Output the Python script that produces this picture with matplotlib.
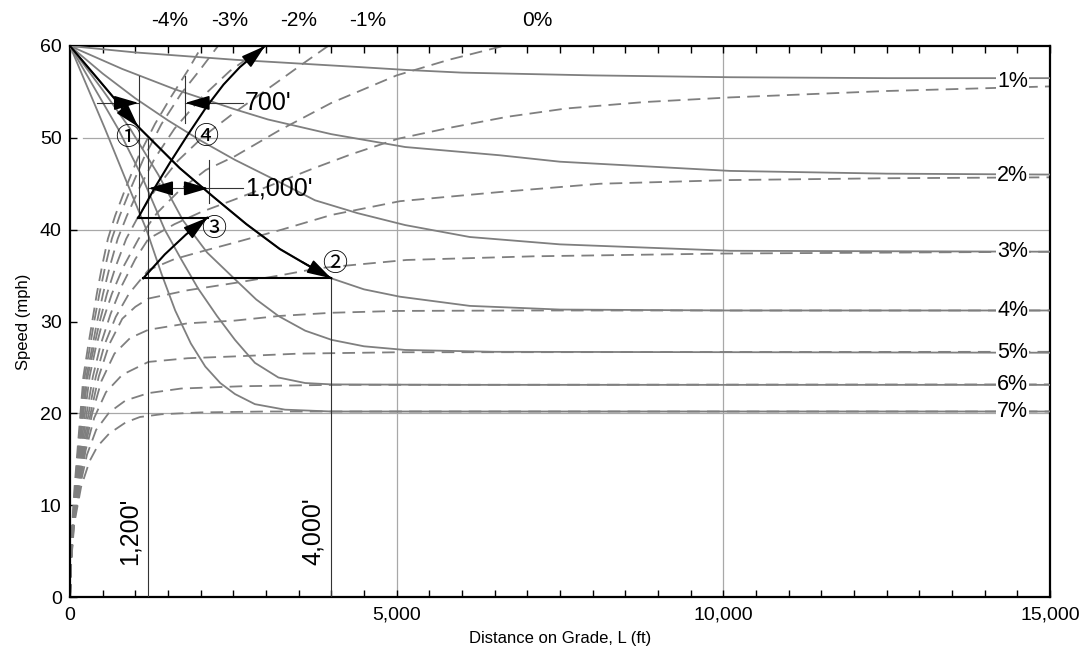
import matplotlib.pyplot as plt
from matplotlib.ticker import MultipleLocator, FuncFormatter

plt.rcParams['font.family'] = ['Liberation Sans', 'DejaVu Sans']

# deceleration on upgrades (solid), distance in ft, speed in mph
dec1_d = [0, 1000, 2525, 4440, 5130, 6000, 8000, 10100, 12500, 15000]
dec1_v = [60, 59.3, 58.5, 57.7, 57.4, 57.1, 56.8, 56.6, 56.5, 56.5]
dec2_d = [0, 800, 1600, 2525, 3030, 4000, 5130, 6580, 7500, 10100, 12500, 15000]
dec2_v = [60, 57.5, 55.3, 53.1, 52.0, 50.4, 49.0, 48.1, 47.4, 46.4, 46.1, 46.0]
dec3_d = [0, 500, 1000, 1500, 2000, 2525, 3200, 3750, 4400, 5130, 6120, 7500, 10100, 15000]
dec3_v = [60, 57.0, 54.3, 51.9, 49.7, 47.6, 45.2, 43.2, 41.8, 40.5, 39.2, 38.4, 37.7, 37.6]
dec4_d = [0, 500, 1045, 1680, 2190, 2700, 3210, 3620, 4000, 4500, 5050, 6120, 7500, 10100, 15000]
dec4_v = [60, 55.8, 51.2, 46.7, 43.6, 40.6, 37.9, 36.2, 34.7, 33.5, 32.7, 31.7, 31.3, 31.2, 31.2]
dec5_d = [0, 500, 920, 1350, 1730, 2100, 2525, 2850, 3190, 3600, 4005, 4500, 5130, 6500, 15000]
dec5_v = [60, 55.2, 51, 46, 41, 37.5, 34.6, 32.4, 30.6, 29.0, 28.0, 27.3, 26.9, 26.7, 26.6]
dec6_d = [0, 735, 1100, 1450, 1700, 1960, 2250, 2525, 2830, 3190, 3600, 4005, 6000, 15000]
dec6_v = [60, 51, 45.8, 40, 36.8, 33.6, 30.6, 28.0, 25.5, 23.9, 23.3, 23.15, 23.1, 23.1]
dec7_d = [0, 535, 850, 1170, 1400, 1610, 1850, 2070, 2300, 2525, 2830, 3290, 4000, 15000]
dec7_v = [60, 51, 45.5, 40, 35.2, 31.2, 27.6, 25.1, 23.3, 22.1, 21.0, 20.4, 20.2, 20.2]

# acceleration curves (dashed), from a standing start
accm4_d = [0, 12, 35, 70, 115, 160, 205, 270, 340, 410, 490, 580, 690, 850, 1050, 1300, 1550, 1800, 2020]
accm4_v = [0, 4, 8, 12, 16, 20, 24, 27, 30, 33, 36, 39, 41.5, 44.5, 48, 51.5, 54.5, 57.3, 60]
accm3_d = [0, 13, 38, 78, 125, 175, 225, 300, 370, 450, 540, 640, 760, 930, 1130, 1400, 1700, 2000, 2265]
accm3_v = [0, 4, 8, 12, 16, 20, 24, 27, 30, 33, 36, 39, 41.5, 44.5, 47.8, 51.5, 54.8, 57.5, 60]
accm2_d = [0, 14, 41, 85, 138, 190, 250, 335, 415, 505, 610, 730, 870, 1060, 1300, 1600, 2000, 2450, 2985]
accm2_v = [0, 4, 8, 12, 16, 20, 24, 27, 30, 33, 36, 39, 41.5, 44.5, 47.8, 51, 54.3, 57.3, 60]
accm1_d = [0, 15, 43, 92, 150, 205, 270, 360, 455, 565, 700, 860, 1050, 1320, 1650, 2050, 2525, 3140, 3550, 3950]
accm1_v = [0, 4, 8, 12, 16, 20, 24, 27, 30, 33, 36, 39, 41.5, 44.5, 47.5, 50.2, 52.8, 55.9, 58, 60]
acc0_d = [0, 15, 45, 100, 165, 228, 300, 390, 500, 640, 820, 1050, 1330, 1680, 2080, 2525, 3200, 4000, 5000, 5800, 6630]
acc0_v = [0, 4, 8, 12, 16, 20, 24, 27, 30, 33, 36, 39, 41.8, 44.3, 46.5, 48.0, 50.8, 53.8, 56.8, 58.5, 60]
acc1_d = [0, 16, 48, 108, 180, 255, 350, 470, 620, 800, 1000, 1200, 1600, 2000, 2525, 3100, 3700, 4300, 5020, 5815, 6700, 7600, 8800, 10100, 12500, 15000]
acc1_v = [0, 4, 8, 12, 16, 20, 24, 27.5, 30.8, 34.0, 36.8, 39.0, 40.6, 41.9, 43.3, 44.9, 46.6, 48.2, 49.9, 51.1, 52.3, 53.2, 53.9, 54.4, 55.1, 55.6]
acc2_d = [0, 17, 50, 115, 195, 285, 395, 530, 700, 900, 1200, 1600, 2000, 2525, 3240, 4000, 5050, 6580, 8110, 10100, 12500, 15000]
acc2_v = [0, 4, 8, 12, 16, 20, 24, 27.5, 30.5, 33.0, 35.6, 36.8, 37.6, 38.6, 40.0, 41.6, 43.1, 44.1, 45.0, 45.4, 45.6, 45.7]
acc3_d = [0, 17, 52, 122, 210, 315, 440, 600, 800, 1000, 1200, 1800, 2525, 3200, 3800, 5150, 7100, 10000, 15000]
acc3_v = [0, 4, 8, 12, 16, 20, 24, 27.5, 30.3, 31.6, 32.5, 33.4, 34.2, 35.0, 35.8, 36.7, 37.1, 37.4, 37.6]
acc4_d = [0, 18, 55, 130, 225, 340, 480, 680, 920, 1200, 1800, 2525, 3200, 4000, 5000, 7000, 15000]
acc4_v = [0, 4, 8, 12, 16, 20, 23.5, 26.5, 28.2, 29.1, 29.8, 30.1, 30.6, 30.95, 31.15, 31.2, 31.2]
acc5_d = [0, 18, 57, 140, 240, 370, 550, 800, 1200, 1800, 2525, 3500, 5000, 15000]
acc5_v = [0, 4, 8, 12, 16, 19.5, 22.3, 24.2, 25.6, 26.0, 26.2, 26.5, 26.65, 26.7]
acc6_d = [0, 19, 60, 150, 260, 400, 600, 850, 1200, 1700, 2630, 4000, 15000]
acc6_v = [0, 4, 8, 12, 15.5, 18.2, 20.1, 21.4, 22.2, 22.7, 22.95, 23.1, 23.15]
acc7_d = [0, 20, 65, 170, 300, 420, 600, 850, 1070, 1400, 2000, 3000, 15000]
acc7_v = [0, 4, 8, 12, 14.8, 16.4, 17.8, 19.0, 19.6, 19.9, 20.1, 20.2, 20.2]

grade_labels = ['1%', '2%', '3%', '4%', '5%', '6%', '7%']
grade_label_v = [56.1, 45.9, 37.6, 31.2, 26.65, 23.1, 20.2]
down_labels = ['-4%', '-3%', '-2%', '-1%', '0%']
down_label_d = [1530, 2450, 3505, 4560, 7150]

# worked example path
ex2_d = [0, 500, 1045, 1680, 2190, 2700, 3210, 3620, 4000]
ex2_v = [60, 55.8, 51.2, 46.7, 43.6, 40.6, 37.9, 36.2, 34.7]
ex3_d = [1120, 1450, 1780, 2100]
ex3_v = [34.7, 37.3, 39.5, 41.3]
ex4_d = [1045, 1300, 1530, 1800, 2092, 2350, 2600, 2800, 2985]
ex4_v = [41.3, 44.6, 47.3, 50.3, 53.4, 55.8, 57.7, 58.9, 60]

GRAY = '#7f7f7f'
GRID = '#a8a8a8'

fig = plt.figure(figsize=(10.89, 6.69), dpi=100)
ax = fig.add_axes([70 / 1089, 1 - 597 / 669, 980 / 1089, 551 / 669])

# grid
for gv in [20, 40]:
    ax.plot([0, 15000], [gv, gv], color=GRID, lw=0.9, zorder=1)
ax.plot([200, 14900], [50, 50], color=GRID, lw=0.9, zorder=1)
for gx in [5000, 10000]:
    ax.plot([gx, gx], [0, 60], color=GRID, lw=0.9, zorder=1)

dec = [(dec1_d, dec1_v), (dec2_d, dec2_v), (dec3_d, dec3_v), (dec4_d, dec4_v),
       (dec5_d, dec5_v), (dec6_d, dec6_v), (dec7_d, dec7_v)]
acc = [(accm4_d, accm4_v), (accm3_d, accm3_v), (accm2_d, accm2_v), (accm1_d, accm1_v),
       (acc0_d, acc0_v), (acc1_d, acc1_v), (acc2_d, acc2_v), (acc3_d, acc3_v),
       (acc4_d, acc4_v), (acc5_d, acc5_v), (acc6_d, acc6_v), (acc7_d, acc7_v)]

for d, v in acc:
    ax.plot(d, v, color=GRAY, lw=1.3, dashes=(7, 4), zorder=2)
for d, v in dec:
    ax.plot(d, v, color=GRAY, lw=1.3, zorder=3)

# thin construction lines
LC = '#333333'
ax.plot([1200, 1200], [0, 49.9], color=LC, lw=0.8, zorder=4)
ax.plot([4000, 4000], [0, 34.7], color=LC, lw=0.8, zorder=4)
ax.plot([1050, 1050], [41.3, 56.7], color=LC, lw=0.8, zorder=4)
ax.plot([1760, 1760], [51.6, 56.7], color=LC, lw=0.8, zorder=4)
ax.plot([2120, 2120], [42.9, 47.6], color=LC, lw=0.8, zorder=4)

# worked example in black
ax.plot(ex2_d, ex2_v, color='black', lw=1.5, zorder=5)
ax.plot(ex3_d, ex3_v, color='black', lw=1.5, zorder=5)
ax.plot(ex4_d, ex4_v, color='black', lw=1.5, zorder=5)
ax.plot([1120, 4000], [34.7, 34.7], color='black', lw=1.5, zorder=5)
ax.plot([1045, 2115], [41.3, 41.3], color='black', lw=1.5, zorder=5)


def head(tip, tail):
    ax.annotate('', xy=tip, xytext=tail, zorder=6,
                arrowprops=dict(arrowstyle='-|>,head_length=0.75,head_width=0.22',
                                color='black', lw=1.2, shrinkA=0, shrinkB=0,
                                mutation_scale=20))


head((1045, 51.2), (760, 53.5))
head((4000, 34.7), (3550, 36.5))
head((2100, 41.3), (1800, 39.6))
head((2985, 60), (2720, 58.4))

# dimension lines
ax.plot([410, 1050], [53.8, 53.8], color=LC, lw=0.8, zorder=4)
ax.plot([1760, 2650], [53.8, 53.8], color=LC, lw=0.8, zorder=4)
head((1050, 53.8), (700, 53.8))
head((1760, 53.8), (2110, 53.8))
ax.plot([1200, 2650], [44.5, 44.5], color=LC, lw=0.8, zorder=4)
head((1200, 44.5), (1550, 44.5))
head((2120, 44.5), (1770, 44.5))
ax.text(2680, 53.8, "700'", fontsize=18, va='center', ha='left', zorder=7)
ax.text(2680, 44.5, "1,000'", fontsize=18, va='center', ha='left', zorder=7)
ax.text(920, 7.2, "1,200'", fontsize=18, rotation=90, va='center', ha='center', zorder=7)
ax.text(3720, 7.2, "4,000'", fontsize=18, rotation=90, va='center', ha='center', zorder=7)

circ = ['Noto Sans CJK JP', 'DejaVu Sans']
ax.text(888, 50.0, '\u2460', fontsize=18, family=circ, ha='center', va='center', zorder=7)
ax.text(4056, 36.3, '\u2461', fontsize=18, family=circ, ha='center', va='center', zorder=7)
ax.text(2204, 40.1, '\u2462', fontsize=18, family=circ, ha='center', va='center', zorder=7)
ax.text(2082, 50.1, '\u2463', fontsize=18, family=circ, ha='center', va='center', zorder=7)

for lab, v in zip(grade_labels, grade_label_v):
    ax.text(14430, v, lab, fontsize=15.5, ha='center', va='center', zorder=7,
            bbox=dict(fc='white', ec='none', pad=0.6))
for lab, d in zip(down_labels, down_label_d):
    ax.text(d, 62.8, lab, fontsize=15, ha='center', va='center', clip_on=False)

ax.set_xlim(0, 15000)
ax.set_ylim(0, 60)
ax.xaxis.set_major_locator(MultipleLocator(5000))
ax.xaxis.set_minor_locator(MultipleLocator(500))
ax.yaxis.set_major_locator(MultipleLocator(10))
ax.xaxis.set_major_formatter(FuncFormatter(lambda x, p: f'{int(x):,}'))
ax.tick_params(axis='x', which='both', direction='in', top=True, length=5, width=1,
               labelsize=14, pad=7)
ax.tick_params(axis='y', which='both', direction='in', length=5, width=1,
               labelsize=14, pad=6)
for s in ax.spines.values():
    s.set_linewidth(1.6)

ax.set_xlabel('Distance on Grade, L (ft)', fontsize=12, labelpad=5)
ax.set_ylabel('Speed (mph)', fontsize=12, labelpad=6)

fig.savefig('out.png', dpi=100)
